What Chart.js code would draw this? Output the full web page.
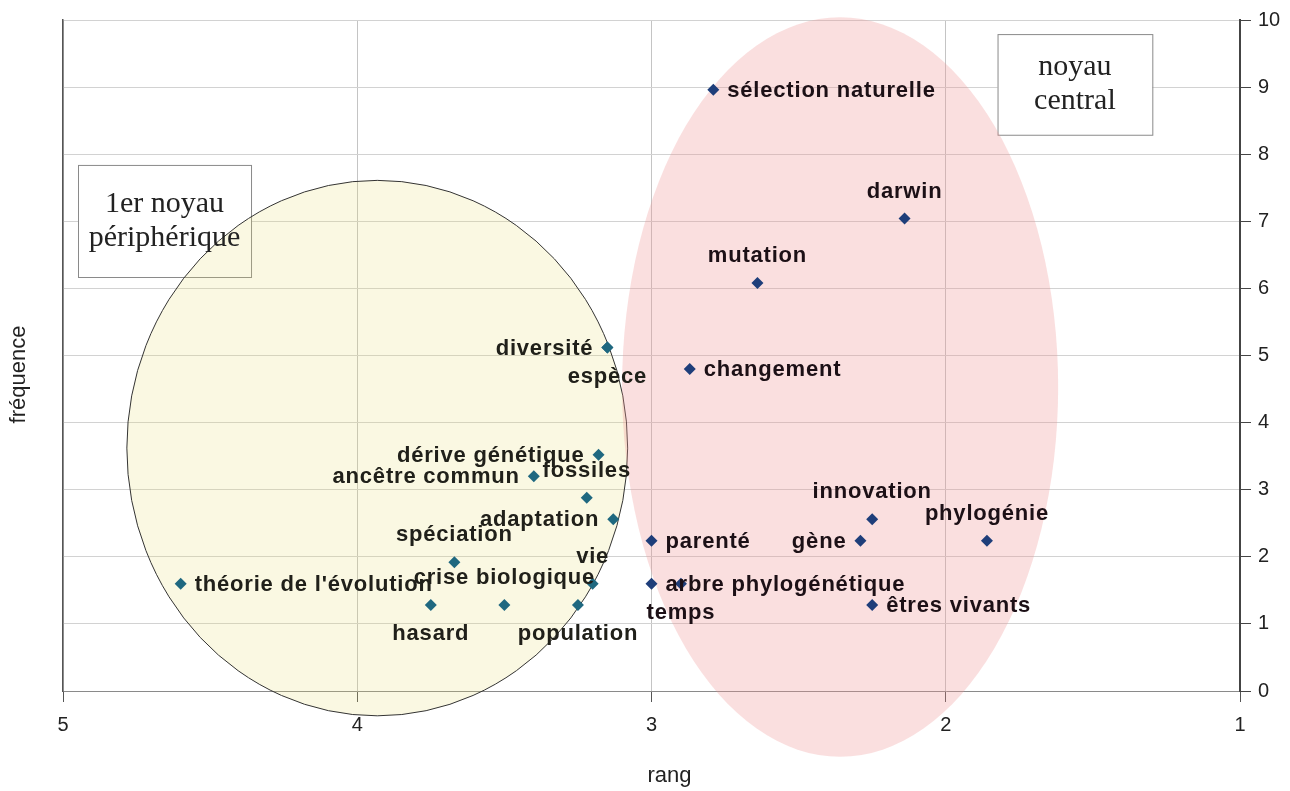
<!DOCTYPE html>
<html>
<head>
<meta charset="utf-8">
<script src="https://cdn.jsdelivr.net/npm/chart.js@4"></script>
<style>
  html, body { margin: 0; padding: 0; background: #fff; }
  #wrap { width: 1290px; height: 791px; }
</style>
</head>
<body>
<div id="wrap"><canvas id="chart"></canvas></div>
<script>
// 1er noyau périphérique
const periphNames = ["diversité", "espèce", "dérive génétique", "ancêtre commun", "fossiles",
  "adaptation", "spéciation", "théorie de l'évolution", "vie", "crise biologique", "hasard", "population"];
const periphRang = [3.15, 3.15, 3.18, 3.40, 3.22, 3.13, 3.67, 4.60, 3.20, 3.50, 3.75, 3.25];
const periphFreq = [5.12, 5.12, 3.52, 3.20, 2.88, 2.56, 1.92, 1.60, 1.60, 1.28, 1.28, 1.28];

// noyau central
const centralNames = ["sélection naturelle", "darwin", "mutation", "changement", "parenté",
  "arbre phylogénétique", "temps", "gène", "innovation", "phylogénie", "êtres vivants"];
const centralRang = [2.79, 2.14, 2.64, 2.87, 3.00, 3.00, 2.90, 2.29, 2.25, 1.86, 2.25];
const centralFreq = [8.96, 7.04, 6.08, 4.80, 2.24, 1.60, 1.60, 2.24, 2.56, 2.24, 1.28];

// where each label sits next to its point
const labelSide = {
  "diversité": "left", "espèce": "below", "dérive génétique": "left", "ancêtre commun": "left",
  "fossiles": "above", "adaptation": "left", "spéciation": "above", "théorie de l'évolution": "right",
  "vie": "above", "crise biologique": "above", "hasard": "below", "population": "below",
  "sélection naturelle": "right", "darwin": "above", "mutation": "above", "changement": "right",
  "parenté": "right", "arbre phylogénétique": "right", "temps": "below", "gène": "left",
  "innovation": "above", "phylogénie": "above", "êtres vivants": "right"
};

// zones (in rang / fréquence units)
const zones = [
  { cx: 3.932, cy: 3.62, rx: 0.851, ry: 3.99, fill: "rgba(232,222,110,0.2)", stroke: "#333" },
  { cx: 2.359, cy: 4.53, rx: 0.741, ry: 5.51, fill: "rgba(240,150,150,0.3)", stroke: null }
];
const boxes = [
  { x1: 4.949, x2: 4.361, y1: 7.84, y2: 6.17, lines: ["1er noyau", "périphérique"] },
  { x1: 1.824, x2: 1.298, y1: 9.79, y2: 8.29, lines: ["noyau", "central"] }
];

function toPoints(xs, ys) {
  return xs.map((x, i) => ({ x: x, y: ys[i] }));
}

const zonesPlugin = {
  id: "zones",
  beforeDatasetsDraw(chart) {
    const ctx = chart.ctx, sx = chart.scales.x, sy = chart.scales.y;
    ctx.save();
    boxes.forEach(b => {
      const l = sx.getPixelForValue(b.x1), r = sx.getPixelForValue(b.x2);
      const t = sy.getPixelForValue(b.y1), bt = sy.getPixelForValue(b.y2);
      ctx.fillStyle = "#fff";
      ctx.fillRect(l, t, r - l, bt - t);
      ctx.strokeStyle = "#8a8a8a";
      ctx.lineWidth = 1;
      ctx.strokeRect(l + 0.5, t + 0.5, r - l, bt - t);
    });
    zones.forEach(z => {
      const px = sx.getPixelForValue(z.cx), py = sy.getPixelForValue(z.cy);
      const rx = Math.abs(sx.getPixelForValue(z.cx + z.rx) - px);
      const ry = Math.abs(sy.getPixelForValue(z.cy + z.ry) - py);
      ctx.beginPath();
      ctx.ellipse(px, py, rx, ry, 0, 0, Math.PI * 2);
      ctx.fillStyle = z.fill;
      ctx.fill();
      if (z.stroke) {
        ctx.strokeStyle = z.stroke;
        ctx.lineWidth = 1;
        ctx.stroke();
      }
    });
    ctx.restore();
  },
  afterDatasetsDraw(chart) {
    const ctx = chart.ctx, sx = chart.scales.x, sy = chart.scales.y;
    const area = chart.chartArea;
    ctx.save();
    // box texts
    ctx.font = '30px "Liberation Serif", "Times New Roman", serif';
    ctx.fillStyle = "#222";
    ctx.textAlign = "center";
    ctx.textBaseline = "middle";
    boxes.forEach(b => {
      const cx = (sx.getPixelForValue(b.x1) + sx.getPixelForValue(b.x2)) / 2;
      const cy = (sy.getPixelForValue(b.y1) + sy.getPixelForValue(b.y2)) / 2;
      ctx.fillText(b.lines[0], cx, cy - 17);
      ctx.fillText(b.lines[1], cx, cy + 17);
    });
    // axis titles (both sit a bit off-centre in the original)
    ctx.font = '22px "Liberation Sans", Arial, sans-serif';
    ctx.fillText("rang", (area.left + area.right) / 2 + 18, 776);
    ctx.save();
    ctx.translate(19, (area.top + area.bottom) / 2 + 19);
    ctx.rotate(-Math.PI / 2);
    ctx.fillText("fréquence", 0, 0);
    ctx.restore();
    // point labels
    ctx.font = 'bold 22px "Liberation Sans", Arial, sans-serif';
    ctx.letterSpacing = "0.8px";
    chart.data.datasets.forEach((ds, di) => {
      const meta = chart.getDatasetMeta(di);
      ctx.fillStyle = ds.labelColor;
      meta.data.forEach((pt, i) => {
        const name = ds.names[i];
        const side = labelSide[name];
        let x = pt.x, y = pt.y + 1;
        if (side === "right") { ctx.textAlign = "left"; x += 14; }
        else if (side === "left") { ctx.textAlign = "right"; x -= 14; }
        else if (side === "above") { ctx.textAlign = "center"; y -= 28; }
        else { ctx.textAlign = "center"; y += 28; }
        ctx.fillText(name, x, y);
      });
    });
    ctx.restore();
  }
};

const tickFont = { family: '"Liberation Sans", Arial, sans-serif', size: 20 };

const config = {
  type: "scatter",
  data: {
    datasets: [
      {
        label: "1er noyau périphérique",
        names: periphNames,
        labelColor: "#20201a",
        data: toPoints(periphRang, periphFreq),
        pointStyle: "rectRot",
        pointRadius: 6,
        pointBorderWidth: 0,
        backgroundColor: "rgb(31,104,128)",
        borderColor: "rgb(31,104,128)"
      },
      {
        label: "noyau central",
        names: centralNames,
        labelColor: "#1c1016",
        data: toPoints(centralRang, centralFreq),
        pointStyle: "rectRot",
        pointRadius: 6,
        pointBorderWidth: 0,
        backgroundColor: "rgb(30,62,122)",
        borderColor: "rgb(30,62,122)"
      }
    ]
  },
  options: {
    responsive: true,
    maintainAspectRatio: false,
    animation: false,
    layout: { padding: { top: 20 } },
    plugins: { legend: { display: false }, tooltip: { enabled: false } },
    scales: {
      x: {
        type: "linear",
        position: "bottom",
        reverse: true,
        min: 1,
        max: 5,
        ticks: { stepSize: 1, font: tickFont, color: "#222", padding: 11 },
        grid: { color: "#c4c4c4", tickLength: 11, tickColor: "#555" },
        border: { color: "#8a8a8a", width: 1 },
        afterFit: (s) => { s.height = 100; }
      },
      y: {
        position: "right",
        min: 0,
        max: 10,
        ticks: { stepSize: 1, font: tickFont, color: "#222", padding: 7 },
        grid: { color: "#d2d2d2", tickLength: 11, tickColor: "#444" },
        border: { color: "#444", width: 2 },
        afterFit: (s) => { s.width = 50; }
      },
      yLeft: {
        position: "left",
        min: 0,
        max: 10,
        ticks: { display: false },
        grid: { display: false },
        border: { display: true, color: "#555", width: 1.5 },
        afterFit: (s) => { s.width = 63; }
      }
    }
  },
  plugins: [zonesPlugin]
};

const chart = new Chart(document.getElementById("chart"), config);
</script>
</body>
</html>
